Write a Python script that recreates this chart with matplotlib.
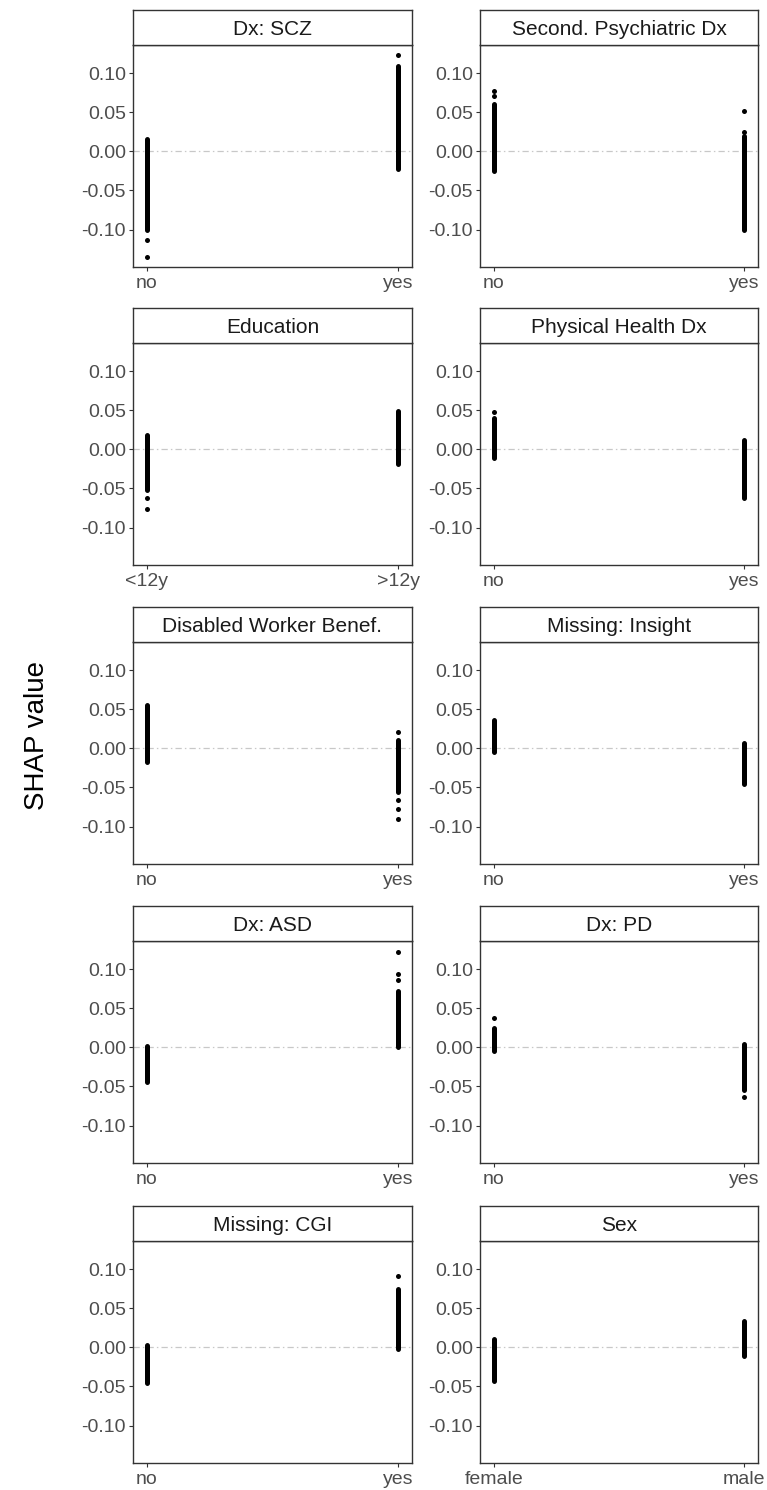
import numpy as np
import matplotlib.pyplot as plt

plt.rcParams['font.family'] = ['Liberation Sans', 'DejaVu Sans']

# panel titles and category levels (left level at x=1, right level at x=2)
TITLES = ["Dx: SCZ", "Second. Psychiatric Dx", "Education", "Physical Health Dx",
          "Disabled Worker Benef.", "Missing: Insight", "Dx: ASD", "Dx: PD",
          "Missing: CGI", "Sex"]
LEVELS = [("no", "yes"), ("no", "yes"), ("<12y", ">12y"), ("no", "yes"),
          ("no", "yes"), ("no", "yes"), ("no", "yes"), ("no", "yes"),
          ("no", "yes"), ("female", "male")]

# dense runs of overlapping SHAP points (low, high) for each level
BAND_A = [(-0.101, 0.016), (-0.025, 0.060), (-0.052, 0.018), (-0.011, 0.040),
          (-0.017, 0.055), (-0.005, 0.036), (-0.044, 0.002), (-0.005, 0.025),
          (-0.045, 0.003), (-0.043, 0.011)]
BAND_B = [(-0.023, 0.109), (-0.100, 0.020), (-0.019, 0.049), (-0.062, 0.012),
          (-0.056, 0.011), (-0.045, 0.007), (0.001, 0.072), (-0.055, 0.004),
          (-0.002, 0.074), (-0.011, 0.033)]

# isolated SHAP points for each level
PTS_A = [[-0.114, -0.135], [0.077, 0.071], [-0.062, -0.076], [0.048],
         [], [], [], [0.038], [], []]
PTS_B = [[0.123], [0.052, 0.025], [], [],
         [0.021, -0.066, -0.077, -0.091], [], [0.122, 0.094, 0.086], [-0.063],
         [0.091], []]

W, H = 767, 1490
fig = plt.figure(figsize=(W / 100, H / 100), dpi=100)

# shared y range with ggplot-like 5% expansion
all_vals = [v for b in BAND_A + BAND_B for v in b] + \
           [v for p in PTS_A + PTS_B for v in p]
ymin, ymax = min(all_vals), max(all_vals)
pad = 0.05 * (ymax - ymin)

col_x = [133, 480]
col_w = [279, 278]
row_top = [45, 343, 642, 941, 1241]
plot_h = 222
strip_h = 35
dot = 5  # px
dark = '#333333'


def px_box(x, y, w, h):
    return [x / W, 1 - (y + h) / H, w / W, h / H]


for i, title in enumerate(TITLES):
    r, c = divmod(i, 2)
    ax = fig.add_axes(px_box(col_x[c], row_top[r], col_w[c], plot_h))
    ax.axhline(0, color='#c8c8c8', lw=0.9, ls=(0, (5, 2.5, 1.2, 2.5)), zorder=1)

    for x, band, pts in [(1, BAND_A[i], PTS_A[i]), (2, BAND_B[i], PTS_B[i])]:
        ax.plot([x, x], band, color='black', lw=dot * 0.72,
                solid_capstyle='round', zorder=3)
        if pts:
            ax.plot([x] * len(pts), pts, 'o', color='black',
                    ms=dot * 0.72, mew=0, zorder=3)

    ax.set_xlim(0.945, 2.055)
    ax.set_ylim(ymin - pad, ymax + pad)
    ax.set_xticks([1, 2])
    ax.set_xticklabels(LEVELS[i])
    ax.set_yticks([-0.10, -0.05, 0.00, 0.05, 0.10])
    ax.set_yticklabels(['-0.10', '-0.05', '0.00', '0.05', '0.10'])
    ax.tick_params(length=3, width=0.8, color=dark, labelcolor='#4d4d4d',
                   labelsize=14, pad=2)
    ax.tick_params(axis='x', pad=3)
    for s in ax.spines.values():
        s.set_color(dark)
        s.set_linewidth(1.0)

    sax = fig.add_axes(px_box(col_x[c], row_top[r] - strip_h, col_w[c], strip_h))
    sax.set_xticks([])
    sax.set_yticks([])
    for s in sax.spines.values():
        s.set_color(dark)
        s.set_linewidth(1.0)
    sax.text(0.5, 0.45, title, ha='center', va='center', fontsize=15,
             color='#1a1a1a', transform=sax.transAxes)

fig.text(37 / W, 1 - 735 / H, 'SHAP value', rotation=90, ha='center',
         va='center', fontsize=20, color='black')

fig.savefig('out.png', dpi=100)
